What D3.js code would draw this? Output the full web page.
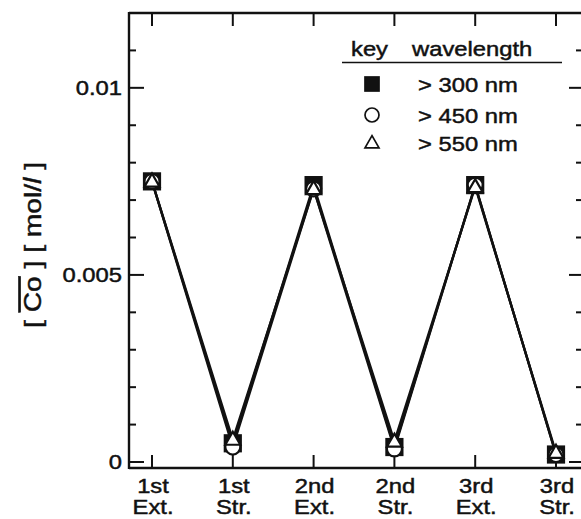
<!DOCTYPE html>
<html>
<head>
<meta charset="utf-8">
<script src="https://cdn.jsdelivr.net/npm/d3@7"></script>
<style>
  html, body { margin: 0; padding: 0; background: #fff; overflow: hidden; }
  svg { display: block; }
  text { font-family: "Liberation Sans", Arial, Helvetica, sans-serif; fill: #111; stroke: #111; stroke-width: 0.45px; }
</style>
</head>
<body>
<svg id="chart" width="581" height="519"></svg>
<script>
// Extraction / stripping cycles on the x axis
const categories = ["1st Ext.", "1st Str.", "2nd Ext.", "2nd Str.", "3rd Ext.", "3rd Str."];
const catLines = [["1st", "Ext."], ["1st", "Str."], ["2nd", "Ext."], ["2nd", "Str."], ["3rd", "Ext."], ["3rd", "Str."]];

// Co concentration (mol/l) for each irradiation wavelength
const seriesNames = ["> 300 nm", "> 450 nm", "> 550 nm"];
const seriesShapes = ["square", "circle", "triangle"];
const co300 = [0.0075, 0.0005, 0.0074, 0.0004, 0.0074, 0.0002];
const co450 = [0.0075, 0.0004, 0.0073, 0.00035, 0.0074, 0.0002];
const co550 = [0.0075, 0.0006, 0.0073, 0.00055, 0.00735, 0.00025];

const yMajorTicks = [0, 0.005, 0.01];
const yMajorLabels = ["0", "0.005", "0.01"];
const yMinorTicks = [0.001, 0.002, 0.003, 0.004, 0.006, 0.007, 0.008, 0.009, 0.011];

const series = [co300, co450, co550].map((vals, i) => ({
  name: seriesNames[i], shape: seriesShapes[i], values: vals
}));

const svg = d3.select("#chart");
// the right edge of the frame lies just past the page edge
const frame = { left: 129, right: 587, top: 13, bottom: 468 };
const SX = 1.22; // wide lettering

const x = d3.scalePoint().domain(categories).range([152, 556]);
const y = d3.scaleLinear().domain([0, 0.012]).range([462, 13]);

function label(g, px, py, str, anchor, size) {
  return g.append("text")
    .attr("transform", `translate(${px},${py}) scale(${SX},1)`)
    .attr("text-anchor", anchor)
    .style("font-size", size + "px")
    .text(str);
}

// Frame (top, bottom, left)
const axisStroke = 2.4;
svg.append("line").attr("x1", frame.left).attr("x2", 581)
  .attr("y1", frame.top).attr("y2", frame.top)
  .attr("stroke", "#111").attr("stroke-width", axisStroke);
svg.append("line").attr("x1", frame.left).attr("x2", 581)
  .attr("y1", frame.bottom).attr("y2", frame.bottom)
  .attr("stroke", "#111").attr("stroke-width", axisStroke);
svg.append("line").attr("x1", frame.left).attr("x2", frame.left)
  .attr("y1", frame.top - 1).attr("y2", frame.bottom + 1)
  .attr("stroke", "#111").attr("stroke-width", axisStroke);

// Category ticks on bottom and top edges
const ticks = svg.append("g").attr("stroke", "#111").attr("stroke-width", 2);
categories.forEach(c => {
  ticks.append("line").attr("x1", x(c)).attr("x2", x(c))
    .attr("y1", frame.bottom).attr("y2", frame.bottom - 13);
  ticks.append("line").attr("x1", x(c)).attr("x2", x(c))
    .attr("y1", frame.top).attr("y2", frame.top + 13);
});

// Value ticks on left and right edges
yMajorTicks.forEach(v => {
  ticks.append("line").attr("x1", frame.left).attr("x2", frame.left + 15)
    .attr("y1", y(v)).attr("y2", y(v));
  ticks.append("line").attr("x1", frame.right).attr("x2", frame.right - 18)
    .attr("y1", y(v)).attr("y2", y(v));
});
yMinorTicks.forEach(v => {
  ticks.append("line").attr("x1", frame.left).attr("x2", frame.left + 7)
    .attr("y1", y(v)).attr("y2", y(v));
  ticks.append("line").attr("x1", frame.right).attr("x2", frame.right - 11)
    .attr("y1", y(v)).attr("y2", y(v));
});

// Value tick labels
const labels = svg.append("g");
yMajorTicks.forEach((v, i) => {
  label(labels, 122, y(v) + 7, yMajorLabels[i], "end", 19.5);
});

// Category labels (two lines)
categories.forEach((c, i) => {
  label(labels, x(c) + 1, 493, catLines[i][0], "middle", 19.5);
  label(labels, x(c) + 1, 514, catLines[i][1], "middle", 19.5);
});

// Axis title
const title = svg.append("text")
  .attr("transform", `translate(41,245) rotate(-90) scale(1.2,1)`)
  .attr("text-anchor", "middle")
  .style("font-size", "23.5px");
title.append("tspan").text("[ ");
title.append("tspan").style("text-decoration", "overline").text("Co");
title.append("tspan").text(" ] [ mol/");
title.append("tspan").style("font-style", "italic").text("l");
title.append("tspan").text(" ]");

// Connecting lines
const line = d3.line().x((d, i) => x(categories[i])).y(d => y(d));
const plot = svg.append("g");
series.forEach(s => {
  plot.append("path").datum(s.values).attr("d", line)
    .attr("fill", "none").attr("stroke", "#111").attr("stroke-width", 2.3);
});

// Markers
function marker(g, shape, cx, cy, size, sw) {
  if (shape === "square") {
    g.append("rect").attr("x", cx - size / 2).attr("y", cy - size / 2)
      .attr("width", size).attr("height", size)
      .attr("fill", "#111").attr("stroke", "#111").attr("stroke-width", sw);
  } else if (shape === "circle") {
    g.append("circle").attr("cx", cx).attr("cy", cy).attr("r", size / 2)
      .attr("fill", "#fff").attr("stroke", "#111").attr("stroke-width", sw);
  } else {
    const h = size * 0.87;
    g.append("path")
      .attr("d", `M${cx},${cy - h * 0.6}L${cx + size / 2},${cy + h * 0.4}L${cx - size / 2},${cy + h * 0.4}Z`)
      .attr("fill", "#fff").attr("stroke", "#111").attr("stroke-width", sw)
      .attr("stroke-linejoin", "miter");
  }
}
series.forEach(s => {
  s.values.forEach((v, i) => {
    marker(plot, s.shape, x(categories[i]), y(v), s.shape === "square" ? 16 : 15, 2.2);
  });
});

// Legend
const leg = svg.append("g");
label(leg, 351, 56, "key", "start", 19.5);
label(leg, 412, 56, "wavelength", "start", 19.5);
leg.append("line").attr("x1", 342).attr("x2", 562).attr("y1", 62.5).attr("y2", 62.5)
  .attr("stroke", "#111").attr("stroke-width", 1.6);
const legY = [84, 115, 143];
series.forEach((s, i) => {
  marker(leg, s.shape, 372, legY[i], 14, 1.7);
  label(leg, 418, legY[i] + 8, s.name, "start", 19.5);
});
</script>
</body>
</html>
